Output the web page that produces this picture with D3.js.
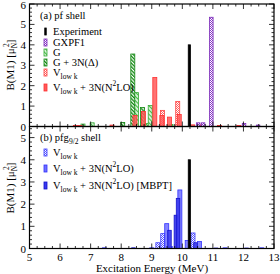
<!DOCTYPE html>
<html><head><meta charset="utf-8">
<script src="https://cdn.jsdelivr.net/npm/d3@7"></script>
<style>body{margin:0;background:#fff}text{font-family:"Liberation Serif","DejaVu Serif",serif}</style>
</head><body>
<script>
// ---- data (energies in MeV, B(M1) in mu_N^2) ----
const expE = [10.23], expB = [4.0];
const gxpf1E = [10.52, 10.68, 10.95, 12.02, 12.48];
const gxpf1B = [0.18, 0.18, 5.35, 0.15, 0.07];
const gE = [6.75, 7.05, 8.50, 8.83, 8.95, 9.63];
const gB = [0.12, 0.18, 1.66, 0.15, 1.03, 0.10];
const g3nE = [8.05, 8.38, 8.70];
const g3nB = [0.20, 3.55, 0.93];
const vlkE = [9.35, 9.85];
const vlkB = [0.79, 1.23];
const vlk3nE = [6.50, 6.65, 7.70, 8.45, 8.73, 9.10, 9.33, 9.58, 9.90, 10.34, 10.60, 11.22, 11.85];
const vlk3nB = [0.05, 0.05, 0.07, 0.54, 0.74, 2.40, 0.54, 0.46, 0.59, 0.08, 0.08, 0.05, 0.05];
// panel (b)
const bVlkE = [9.20, 9.36, 9.62, 10.35];
const bVlkB = [0.26, 0.67, 0.08, 0.70];
const bVlk3nE = [7.45, 9.00, 9.49, 9.92, 10.16, 10.56, 11.40, 12.60];
const bVlk3nB = [0.03, 0.03, 1.12, 2.64, 0.36, 0.32, 0.03, 0.03];
const bMbptE = [8.40, 9.58, 9.79, 9.86, 10.43, 11.10, 12.10];
const bMbptB = [0.03, 0.82, 1.50, 2.26, 0.26, 0.02, 0.02];
const xTicks = [5, 6, 7, 8, 9, 10, 11, 12, 13];
const yTopTicks = [0, 1, 2, 3, 4, 5, 6];
const yBotTicks = [0, 1, 2, 3, 4, 5];

const W = 280, H = 274;
const svg = d3.select("body").append("svg").attr("width", W).attr("height", H);
const defs = svg.append("defs");
function checker(id, col) {
  const p = defs.append("pattern").attr("id", id).attr("width", 2).attr("height", 2).attr("patternUnits", "userSpaceOnUse");
  p.append("rect").attr("width", 2).attr("height", 2).attr("fill", "#fff");
  p.append("rect").attr("width", 1).attr("height", 1).attr("fill", col);
  p.append("rect").attr("x", 1).attr("y", 1).attr("width", 1).attr("height", 1).attr("fill", col);
}
function hatch(id, col, sp, sw, bg) {
  const p = defs.append("pattern").attr("id", id).attr("width", sp).attr("height", sp)
    .attr("patternUnits", "userSpaceOnUse").attr("patternTransform", "rotate(-45)");
  p.append("rect").attr("width", sp).attr("height", sp).attr("fill", bg);
  p.append("rect").attr("width", sw).attr("height", sp).attr("fill", col);
}
checker("pPurple", "#8a3ac8");
checker("pRed", "#ff6060");
checker("pBlue", "#5a5aff");
hatch("pGs", "#44bb44", 3, 1, "#d8f2d8");
hatch("pGd", "#118811", 2.5, 1.3, "#ffffff");

const x = d3.scaleLinear().domain([5, 13]).range([29.5, 274]);
const yTop = d3.scaleLinear().domain([0, 6]).range([126.5, 4]);
const yBot = d3.scaleLinear().domain([0, 5.5]).range([248.5, 126.5]);

function bars(g, y, E, B, w, fill, stroke, op) {
  g.append("g").selectAll("rect").data(E.map((e, i) => [e, B[i]])).join("rect")
    .attr("x", d => x(d[0]) - w / 2).attr("width", w)
    .attr("y", d => y(d[1])).attr("height", d => y(0) - y(d[1]))
    .attr("fill", fill).attr("fill-opacity", op).attr("stroke", stroke).attr("stroke-width", 0.8);
}
const gT = svg.append("g");
bars(gT, yTop, gE, gB, 4, "url(#pGs)", "#33aa33", 1);
bars(gT, yTop, g3nE, g3nB, 4, "url(#pGd)", "#118811", 1);
bars(gT, yTop, vlkE, vlkB, 4, "url(#pRed)", "#ff4040", 1);
bars(gT, yTop, vlk3nE, vlk3nB, 4, "#ff5a5a", "#ff3030", 0.85);
bars(gT, yTop, gxpf1E, gxpf1B, 3.5, "url(#pPurple)", "#7a2ab8", 1);
bars(gT, yTop, expE, expB, 2.2, "#000", "#000", 1);

const gB2 = svg.append("g");
bars(gB2, yBot, bVlkE, bVlkB, 4, "url(#pBlue)", "#3a3aff", 1);
bars(gB2, yBot, bVlk3nE, bVlk3nB, 4, "#7070ff", "#3030ff", 0.85);
bars(gB2, yBot, bMbptE, bMbptB, 3.5, "#3a3aee", "#1010cc", 0.9);
bars(gB2, yBot, expE, expB, 2.2, "#000", "#000", 1);

// frames and ticks
function panel(y, yt, showX) {
  const r = y.range();
  svg.append("rect").attr("x", 29.5).attr("y", r[1]).attr("width", 274 - 29.5).attr("height", r[0] - r[1])
    .attr("fill", "none").attr("stroke", "#000").attr("stroke-width", 1.2);
  const minorX = d3.range(5, 13.001, 0.25).filter(v => Math.abs(v - Math.round(v)) > 0.01);
  const minorY = d3.range(0, y.domain()[1] + 0.001, 0.2).filter(v => Math.abs(v - Math.round(v)) > 0.01);
  const tk = svg.append("g").attr("stroke", "#000").attr("stroke-width", 0.8);
  xTicks.forEach(v => {
    tk.append("line").attr("x1", x(v)).attr("x2", x(v)).attr("y1", r[0]).attr("y2", r[0] - 5);
    tk.append("line").attr("x1", x(v)).attr("x2", x(v)).attr("y1", r[1]).attr("y2", r[1] + 5);
  });
  minorX.forEach(v => {
    tk.append("line").attr("x1", x(v)).attr("x2", x(v)).attr("y1", r[0]).attr("y2", r[0] - 2.5);
    tk.append("line").attr("x1", x(v)).attr("x2", x(v)).attr("y1", r[1]).attr("y2", r[1] + 2.5);
  });
  yt.forEach(v => {
    tk.append("line").attr("x1", 29.5).attr("x2", 34.5).attr("y1", y(v)).attr("y2", y(v));
    tk.append("line").attr("x1", 274).attr("x2", 269).attr("y1", y(v)).attr("y2", y(v));
  });
  minorY.forEach(v => {
    tk.append("line").attr("x1", 29.5).attr("x2", 32).attr("y1", y(v)).attr("y2", y(v));
    tk.append("line").attr("x1", 274).attr("x2", 271.5).attr("y1", y(v)).attr("y2", y(v));
  });
  svg.append("g").selectAll("text").data(yt).join("text")
    .attr("x", 26).attr("y", d => Math.max(y(d) + 4, 9)).attr("text-anchor", "end")
    .attr("font-size", 11).text(d => d);
  if (showX) {
    svg.append("g").selectAll("text").data(xTicks).join("text")
      .attr("x", d => x(d)).attr("y", 261).attr("text-anchor", "middle")
      .attr("font-size", 11).text(d => d);
  }
}
panel(yTop, yTopTicks, false);
panel(yBot, yBotTicks, true);

// axis titles
function yTitle(cy) {
  const t = svg.append("text").attr("transform", `translate(14,${cy}) rotate(-90)`)
    .attr("text-anchor", "middle").attr("font-size", 11);
  t.append("tspan").text("B(M1) [μ");
  t.append("tspan").attr("font-size", 7.5).attr("dy", 3).text("N");
  t.append("tspan").attr("font-size", 7.5).attr("dy", -8).attr("dx", -4).text("2");
  t.append("tspan").attr("dy", 5).text("]");
}
yTitle(65);
yTitle(188);
svg.append("text").attr("x", 152).attr("y", 272).attr("text-anchor", "middle")
  .attr("font-size", 11).text("Excitation Energy (MeV)");

// legends
function legText(xx, yy, parts) {
  const t = svg.append("text").attr("x", xx).attr("y", yy).attr("font-size", 10.5);
  parts.forEach(p => {
    const s = t.append("tspan").text(p[0]);
    if (p[1] === "sub") s.attr("font-size", 7.5).attr("dy", 3);
    if (p[1] === "up") s.attr("dy", -3);
    if (p[1] === "sup") s.attr("font-size", 7.5).attr("dy", -5);
    if (p[1] === "down") s.attr("dy", 5);
  });
}
function legSym(xx, yy, fill, stroke, w) {
  svg.append("rect").attr("x", xx - w / 2).attr("y", yy - 7).attr("width", w).attr("height", 7)
    .attr("fill", fill).attr("stroke", stroke).attr("stroke-width", 0.8);
}
svg.append("text").attr("x", 40).attr("y", 19).attr("font-size", 10.5).text("(a) pf shell");
legSym(45.5, 35, "#000", "#000", 1.5); legText(53, 35, [["Experiment"]]);
legSym(45.5, 46, "url(#pPurple)", "#7a2ab8", 3); legText(53, 46, [["GXPF1"]]);
legSym(45.5, 56, "url(#pGs)", "#33aa33", 3); legText(53, 56, [["G"]]);
legSym(45.5, 66, "url(#pGd)", "#118811", 3); legText(53, 66, [["G + 3N(Δ)"]]);
legSym(45.5, 76, "url(#pRed)", "#ff4040", 3); legText(53, 76, [["V"], ["low k", "sub"]]);
legSym(45.5, 91, "#ff5a5a", "#ff3030", 3);
legText(53, 91, [["V"], ["low k", "sub"], [" + 3N(N", "up"], ["2", "sup"], ["LO)", "down"]]);

const t2 = svg.append("text").attr("x", 40).attr("y", 141).attr("font-size", 10.5);
t2.append("tspan").text("(b) pfg");
t2.append("tspan").attr("font-size", 7.5).attr("dy", 3).text("9/2");
t2.append("tspan").attr("dy", -3).text(" shell");
legSym(45.5, 156, "url(#pBlue)", "#3a3aff", 3); legText(53, 156, [["V"], ["low k", "sub"]]);
legSym(45.5, 172, "#7070ff", "#3030ff", 3);
legText(53, 172, [["V"], ["low k", "sub"], [" + 3N(N", "up"], ["2", "sup"], ["LO)", "down"]]);
legSym(45.5, 189, "#3a3aee", "#1010cc", 3);
legText(53, 189, [["V"], ["low k", "sub"], [" + 3N(N", "up"], ["2", "sup"], ["LO) [MBPT]", "down"]]);
</script>
</body></html>
